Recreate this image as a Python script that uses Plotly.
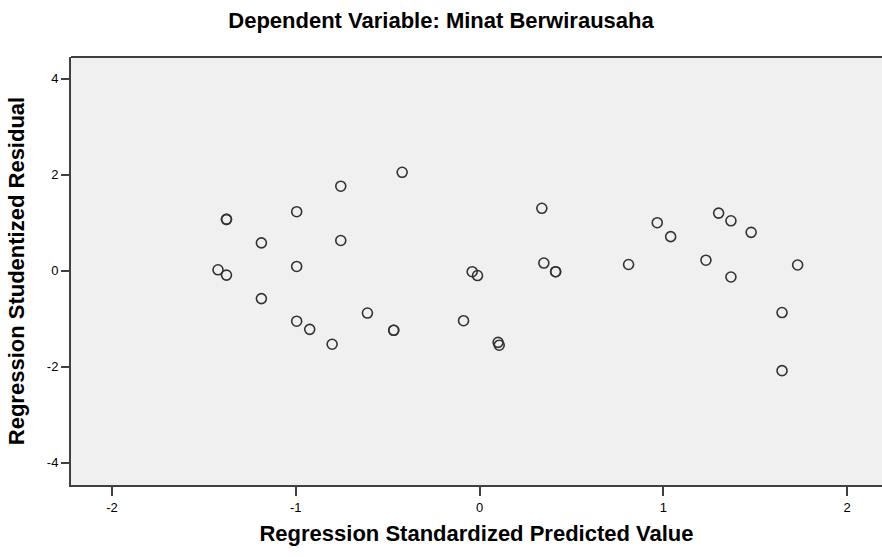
import plotly.graph_objects as go

# Regression Standardized Predicted Value
pred = [-1.423, -1.377, -1.377, -1.377, -1.187, -1.187, -0.995, -0.995, -0.995,
        -0.924, -0.802, -0.755, -0.755, -0.610, -0.467, -0.467, -0.421, -0.087,
        -0.040, -0.011, 0.101, 0.107, 0.339, 0.350, 0.414, 0.414, 0.811, 0.967,
        1.040, 1.232, 1.301, 1.368, 1.368, 1.478, 1.646, 1.646, 1.731]
# Regression Studentized Residual
resid = [0.02, -0.09, 1.07, 1.07, 0.58, -0.58, 1.23, 0.09, -1.05,
         -1.22, -1.53, 1.76, 0.63, -0.88, -1.24, -1.24, 2.05, -1.04,
         -0.02, -0.10, -1.49, -1.55, 1.30, 0.16, -0.02, -0.02, 0.13, 1.00,
         0.71, 0.22, 1.20, 1.04, -0.13, 0.80, -0.87, -2.08, 0.12]

x_ticks = [-2, -1, 0, 1, 2]
y_ticks = [-4, -2, 0, 2, 4]

title_text = "Dependent Variable: Minat Berwirausaha"
x_title = "Regression Standardized Predicted Value"
y_title = "Regression Studentized Residual"

fig = go.Figure()
fig.add_trace(go.Scatter(
    x=pred, y=resid, mode="markers",
    marker=dict(symbol="circle-open", size=10, color="#333333",
                line=dict(width=1.6, color="#333333")),
    hoverinfo="x+y", showlegend=False,
))

font_family = "Liberation Sans, Arial, sans-serif"
W, H = 882, 557

fig.update_layout(
    width=W, height=H,
    margin=dict(l=71, r=0, t=57, b=72, pad=0, autoexpand=False),
    paper_bgcolor="white",
    plot_bgcolor="#F0F0F0",
    font=dict(family=font_family, color="black"),
    title=dict(text="<b>" + title_text + "</b>", x=0.5, xanchor="center",
               y=1 - 20 / H, yanchor="middle", automargin=False,
               font=dict(size=22, family=font_family, color="black")),
    showlegend=False,
)
fig.update_xaxes(
    range=[-2.223, 2.19], tickvals=x_ticks, ticktext=[str(v) for v in x_ticks],
    showgrid=False, zeroline=False, showline=True, linecolor="#404040", linewidth=2,
    ticks="outside", ticklen=9, tickwidth=2, tickcolor="#404040",
    tickfont=dict(size=13, color="black"), automargin=False,
    title=dict(text="<b>" + x_title + "</b>", font=dict(size=22, color="black"), standoff=12),
)
fig.update_yaxes(
    range=[-4.46, 4.45], tickvals=y_ticks, ticktext=[str(v) for v in y_ticks],
    showgrid=False, zeroline=False, showline=True, linecolor="#404040", linewidth=2,
    ticks="outside", ticklen=8, tickwidth=1.5, tickcolor="#404040",
    tickfont=dict(size=13, color="black"), automargin=False,
    title=dict(text="<b>" + y_title + "</b>", font=dict(size=22, color="black"), standoff=16),
)
fig.add_shape(type="line", xref="paper", yref="paper", x0=0, x1=1, y0=1, y1=1,
              line=dict(color="#404040", width=2))

fig.write_html(
    "out.html",
    config={"displayModeBar": False},
    post_script="document.body.style.margin='0';document.body.style.overflow='hidden';",
)
